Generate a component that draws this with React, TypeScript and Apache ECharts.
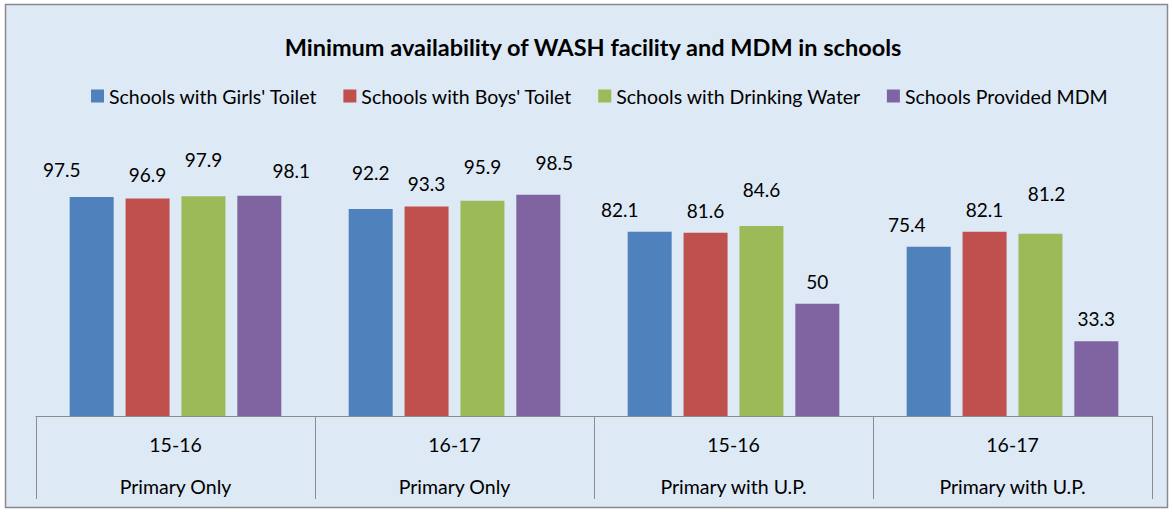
import React, { useEffect, useRef } from 'react';
import * as echarts from 'echarts';

const years = ['15-16', '16-17', '15-16', '16-17'];
const schoolTypes = ['Primary Only', 'Primary Only', 'Primary with U.P.', 'Primary with U.P.'];
const seriesNames = [
  "Schools with Girls' Toilet",
  "Schools with Boys' Toilet",
  'Schools with Drinking Water',
  'Schools Provided MDM',
];
const girlsToilet = [97.5, 92.2, 82.1, 75.4];
const boysToilet = [96.9, 93.3, 81.6, 82.1];
const drinkingWater = [97.9, 95.9, 84.6, 81.2];
const providedMDM = [98.1, 98.5, 50, 33.3];

const seriesValues = [girlsToilet, boysToilet, drinkingWater, providedMDM];
const seriesColors = ['#4F81BD', '#C0504D', '#9BBB59', '#8064A2'];
// manual label nudges (px) as in the original chart
const labelNudges = [
  [[-30, -5], [0, -14], [-30, 0], [-22, 0]],
  [[0, -1], [0, -1], [0, 0], [0, 0]],
  [[0, -14], [0, -12], [0, -14], [6, -18]],
  [[32, -3], [16, -10], [0, 0], [0, 0]],
];

const FONT = 'Lato, "Open Sans", sans-serif';

export default function App() {
  const ref = useRef<HTMLDivElement>(null);
  useEffect(() => {
    if (!ref.current) return;
    const chart = echarts.init(ref.current, undefined, { renderer: 'svg' });
    chart.setOption({
      animation: false,
      backgroundColor: '#ffffff',
      graphic: [
        {
          type: 'rect',
          shape: { x: 5.5, y: 4.5, width: 1162, height: 503 },
          style: { fill: '#dde9f5', stroke: '#8a8a8a', lineWidth: 1.5 },
          z: -10,
          silent: true,
        },
        {
          type: 'text',
          x: 593,
          y: 47,
          style: {
            text: 'Minimum availability of WASH facility and MDM in schools',
            fontFamily: FONT,
            fontSize: 23.5,
            fontWeight: 'bold',
            fill: '#000000',
            align: 'center',
            verticalAlign: 'middle',
            textAlign: 'center',
            textVerticalAlign: 'middle',
          },
        },
      ],
      legend: {
        left: 91,
        top: 86,
        padding: 0,
        itemWidth: 13,
        itemHeight: 13,
        itemGap: 26,
        icon: 'rect',
        data: seriesNames,
        textStyle: { fontFamily: FONT, fontSize: 19.5, color: '#000000' },
      },
      grid: { left: 36, right: 21, top: 191.5, bottom: 96, containLabel: false },
      xAxis: {
        type: 'category',
        data: years,
        axisLine: { show: true, lineStyle: { color: '#8c8c8c', width: 1 } },
        axisTick: { show: true, interval: 0, length: 83, lineStyle: { color: '#8c8c8c', width: 1 } },
        axisLabel: {
          interval: 0,
          margin: 7,
          formatter: (v: string, i: number) => `{y|${v}}\n{t|${schoolTypes[i]}}`,
          rich: {
            y: { fontFamily: FONT, fontSize: 19.5, lineHeight: 42, color: '#000000' },
            t: { fontFamily: FONT, fontSize: 19.5, lineHeight: 42, color: '#000000' },
          },
        },
      },
      yAxis: { type: 'value', min: 0, max: 100, show: false, splitLine: { show: false } },
      series: seriesNames.map((name, s) => ({
        name,
        type: 'bar',
        barWidth: 44,
        barGap: '27%',
        itemStyle: { color: seriesColors[s] },
        label: {
          show: true,
          position: 'top',
          distance: 13,
          fontFamily: FONT,
          fontSize: 19,
          lineHeight: 19,
          color: '#000000',
        },
        data: seriesValues[s].map((v, i) => ({
          value: v,
          label: { offset: labelNudges[s][i] },
        })),
      })),
    });
    return () => chart.dispose();
  }, []);
  return (
    <div
      ref={ref}
      style={{ position: 'fixed', left: 0, top: 0, width: 1173, height: 512 }}
    />
  );
}
